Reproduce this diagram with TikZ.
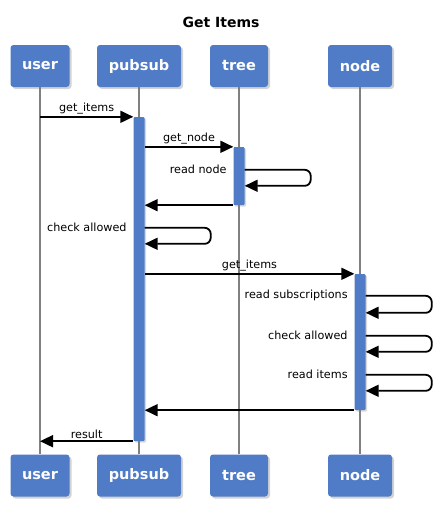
\documentclass[tikz,border=0pt]{standalone}
\usepackage{fontspec}
\setmainfont{DejaVu Sans}
\usetikzlibrary{arrows.meta,positioning,shadows}
\definecolor{boxblue}{RGB}{79,123,199}

\begin{document}
\begin{tikzpicture}[x=1pt, y=-1pt,
  actor/.style={fill=boxblue, rounded corners=3pt, minimum height=42pt, inner sep=0pt,
                text=white, font=\bfseries\fontsize{14.5}{16}\selectfont,
                drop shadow={shadow xshift=2pt, shadow yshift=-2pt, opacity=0.35}},
  lifeline/.style={draw=gray, line width=1.5pt},
  bar/.style={fill=boxblue, rounded corners=1pt, minimum width=11pt, inner sep=0pt,
              drop shadow={shadow xshift=1.5pt, shadow yshift=-1.5pt, opacity=0.3}},
  msg/.style={-{Triangle[length=13pt, width=12pt]}, line width=1.8pt},
  lbl/.style={font=\fontsize{11.2}{13}\selectfont, inner sep=1.5pt}
]
\useasboundingbox (0,0) rectangle (441,520);

% Title
\node[font=\bfseries\fontsize{14}{16}\selectfont] (title) at (221,22) {Get Items};

% Participants (top and bottom)
\node[actor, minimum width=59pt] (userT) at (40,66) {user};
\node[actor, minimum width=84pt] (pubsubT) at (139,66) {pubsub};
\node[actor, minimum width=58pt] (treeT) at (239,66) {tree};
\node[actor, minimum width=64pt] (nodeT) at (360,66) {node};

\node[actor, minimum width=59pt] (userB) at (40,475.5) {user};
\node[actor, minimum width=84pt] (pubsubB) at (139,475.5) {pubsub};
\node[actor, minimum width=58pt] (treeB) at (239,475.5) {tree};
\node[actor, minimum width=64pt] (nodeB) at (360,475.5) {node};

% Lifelines
\draw[lifeline] (userT) -- (userB);
\draw[lifeline] (pubsubT) -- (pubsubB);
\draw[lifeline] (treeT) -- (treeB);
\draw[lifeline] (nodeT) -- (nodeB);

% Activation bars
\node[bar, minimum height=324pt] (actP) at (139,279) {};
\node[bar, minimum height=58pt] (actT) at (239,176) {};
\node[bar, minimum height=136pt] (actN) at (360,342) {};

% user -> pubsub
\draw[msg] (actP.north west -| userT) -- node[lbl, above] {get\_items} (actP.north west);

% pubsub -> tree
\draw[msg] (actT.north west -| actP.east) -- node[lbl, above] {get\_node} (actT.north west);
\node[lbl, anchor=east] (readnode) at ([xshift=-5pt, yshift=-23pt]actT.north west) {read node};
\draw[msg, rounded corners=6pt] ([yshift=-23pt]actT.north east) -- ++(66,0) -- ++(0,16) -- ++(-66,0);
\draw[msg] (actT.south west) -- (actT.south west -| actP.east);

% pubsub self check
\node[lbl, anchor=east] (checkP) at ([xshift=-5pt, yshift=-111pt]actP.north west) {check allowed};
\draw[msg, rounded corners=6pt] ([yshift=-111pt]actP.north east) -- ++(66,0) -- ++(0,16) -- ++(-66,0);

% pubsub -> node
\draw[msg] (actN.north west -| actP.east) -- node[lbl, above] {get\_items} (actN.north west);
\node[lbl, anchor=east] (readsubs) at ([xshift=-5pt, yshift=-22pt]actN.north west) {read subscriptions};
\draw[msg, rounded corners=6pt] ([yshift=-22pt]actN.north east) -- ++(66,0) -- ++(0,17) -- ++(-66,0);
\node[lbl, anchor=east] (checkN) at ([xshift=-5pt, yshift=-62pt]actN.north west) {check allowed};
\draw[msg, rounded corners=6pt] ([yshift=-62pt]actN.north east) -- ++(66,0) -- ++(0,16) -- ++(-66,0);
\node[lbl, anchor=east] (readitems) at ([xshift=-5pt, yshift=-101pt]actN.north west) {read items};
\draw[msg, rounded corners=6pt] ([yshift=-101pt]actN.north east) -- ++(66,0) -- ++(0,16) -- ++(-66,0);
\draw[msg] (actN.south west) -- (actN.south west -| actP.east);

% pubsub -> user
\draw[msg] (actP.south west) -- node[lbl, above] {result} (actP.south west -| userB);

\end{tikzpicture}
\end{document}
